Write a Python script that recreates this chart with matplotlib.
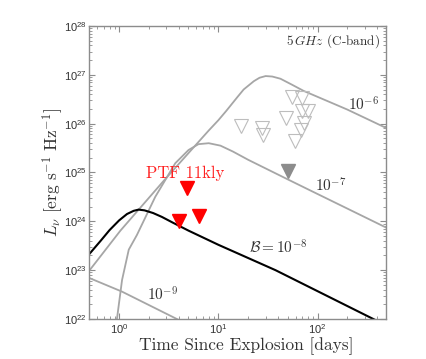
import numpy as np
import matplotlib
matplotlib.use('Agg')
import matplotlib.pyplot as plt

plt.rcParams['font.family'] = ['Liberation Sans', 'DejaVu Sans']
plt.rcParams['mathtext.fontset'] = 'cm'

# model light curves (time in days, log10 L_nu)
t_b6 = [0.5, 1.03, 2.87, 8.0, 10.0, 12.0, 15.5, 18.0, 22.8, 26.0, 30.0, 35.0, 42.3, 55.0,
        72.6, 199, 494]
logL_b6 = [22.99, 23.81, 24.85, 25.86, 26.07, 26.26, 26.54, 26.70, 26.87, 26.94, 26.975,
           26.965, 26.92, 26.80, 26.67, 26.29, 25.91]

t_b7 = [0.95, 1.07, 1.25, 1.51, 2.31, 3.68, 5.0, 6.3, 8.0, 10.5, 14.0, 20.0, 50.0, 85.0, 494]
logL_b7 = [22.0, 22.80, 23.42, 23.72, 24.50, 25.19, 25.46, 25.58, 25.60, 25.55, 25.43, 25.26,
           24.86, 24.63, 23.87]

t_b8 = [0.5, 0.65, 0.8, 1.0, 1.2, 1.4, 1.57, 1.8, 2.2, 2.7, 3.5, 5.0, 10.0, 37.7, 365, 500]
logL_b8 = [23.33, 23.60, 23.82, 24.02, 24.15, 24.215, 24.24, 24.225, 24.17, 24.09, 23.97,
           23.81, 23.52, 23.00, 22.0, 21.86]

t_b9 = [0.5, 1.07, 3.82, 5.0]
logL_b9 = [22.84, 22.56, 22.0, 21.88]

# upper limits
t_ptf = [4.82, 4.0, 6.31]
logL_ptf = [24.68, 24.01, 24.10]

t_gray = [50.5]
logL_gray = [25.04]

t_open = [16.9, 27.6, 28.3, 48.6, 55.3, 69.8, 69.8, 80.9, 72.6, 68.8, 59.9]
logL_open = [25.96, 25.92, 25.77, 26.12, 26.55, 26.53, 26.26, 26.26, 26.01, 25.87, 25.64]

fig = plt.figure(figsize=(4.26, 3.59), dpi=100)
ax = fig.add_axes([0.2096, 0.1114, 0.6965, 0.8162])

gcol = '#a6a6a6'
for t, lg in [(t_b6, logL_b6), (t_b7, logL_b7), (t_b9, logL_b9)]:
    ax.plot(t, 10**np.array(lg), color=gcol, lw=1.3)
ax.plot(t_b8, 10**np.array(logL_b8), color='black', lw=1.5)

ax.plot(t_open, 10**np.array(logL_open), 'v', ms=10, mfc='none', mec='#bdbdbd', mew=0.8)
ax.plot(t_gray, 10**np.array(logL_gray), 'v', ms=10, color='#8c8c8c')
ax.plot(t_ptf, 10**np.array(logL_ptf), 'v', ms=10, color='#ff0000')

ax.set_xscale('log')
ax.set_yscale('log')
ax.set_xlim(0.5, 490)
ax.set_ylim(1e22, 1e28)

# labels
ax.text(4.65, 10**24.98, 'PTF 11kly', color='#ff2020', fontsize=12, family='cmr10',
        ha='center', va='center')
ax.text(288, 10**26.38, r'$10^{-6}$', fontsize=11, color='#333333', ha='center', va='center')
ax.text(136, 10**24.74, r'$10^{-7}$', fontsize=11, color='#333333', ha='center', va='center')
ax.text(40, 10**23.47, r'$\mathcal{B} = 10^{-8}$', fontsize=11, color='#333333', ha='center', va='center')
ax.text(2.76, 10**22.49, r'$10^{-9}$', fontsize=11, color='#333333', ha='center', va='center')
ax.text(0.978, 0.948, r'$5\,GHz$ (C-band)', transform=ax.transAxes, fontsize=9.5,
        family='cmr10', color='#333333', ha='right', va='center')

ax.set_xlabel('Time Since Explosion [days]', family='cmr10', fontsize=12.5, color='#333333')
ax.set_ylabel(r'$L_\nu\ [\mathrm{erg\ s^{-1}\ Hz^{-1}}]$', fontsize=12.5, color='#333333')
ax.xaxis.set_label_coords(0.53, -0.062)
ax.yaxis.set_label_coords(-0.079, 0.5)

for s in ax.spines.values():
    s.set_color('#8c8c8c')
    s.set_linewidth(1.0)
ax.tick_params(which='both', direction='in', top=True, right=True, colors='#8c8c8c',
               labelcolor='#333333', labelsize=8)
ax.tick_params(axis='y', which='both', pad=1.5)
ax.tick_params(axis='x', which='both', pad=2.5)
ax.tick_params(which='major', length=4, width=0.8)
ax.tick_params(which='minor', length=2, width=0.6)

fig.savefig('out.png', dpi=100)
